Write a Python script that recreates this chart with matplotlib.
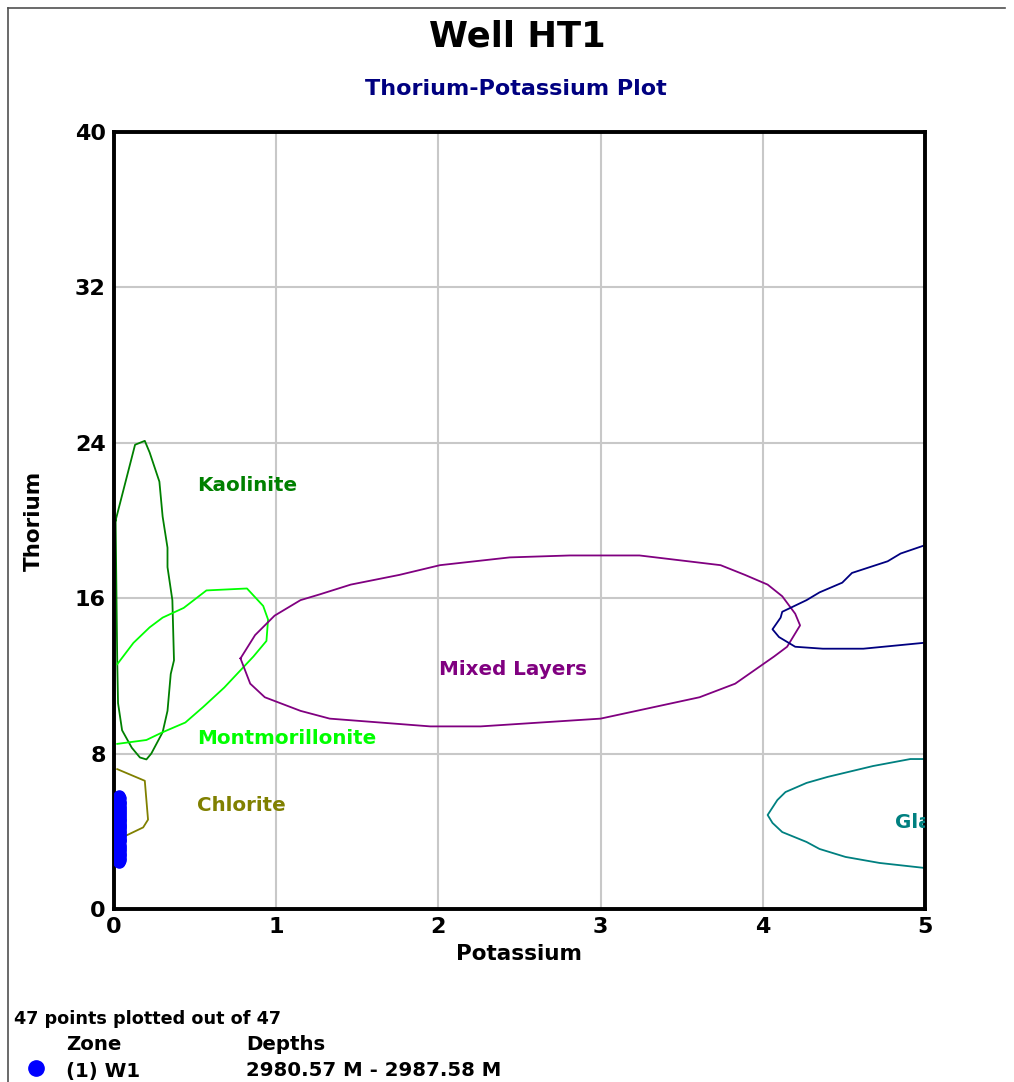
import matplotlib
matplotlib.use("Agg")
import matplotlib.pyplot as plt
from matplotlib.lines import Line2D

# Measured data points (potassium %, thorium ppm)
pts_k = [0.03, 0.04, 0.03, 0.04, 0.04, 0.03, 0.04, 0.04, 0.03, 0.04,
         0.04, 0.03, 0.04, 0.04, 0.03, 0.04, 0.04, 0.04, 0.03, 0.04,
         0.03, 0.04, 0.04, 0.04, 0.03, 0.04, 0.04, 0.03, 0.04, 0.04,
         0.03, 0.04, 0.04, 0.04, 0.03, 0.04, 0.03, 0.04, 0.04, 0.04,
         0.03, 0.04, 0.04, 0.03, 0.04, 0.04, 0.03]
pts_th = [5.8, 5.7, 5.6, 5.5, 5.45, 5.4, 5.3, 5.2, 5.15, 5.1,
          5.0, 4.95, 4.9, 4.8, 4.75, 4.7, 4.6, 4.55, 4.5, 4.4,
          4.35, 4.3, 4.2, 4.15, 4.1, 4.0, 3.95, 3.9, 3.8, 3.75,
          3.7, 3.6, 3.55, 3.5, 3.4, 3.3, 3.25, 3.2, 3.1, 3.0,
          2.9, 2.85, 2.8, 2.7, 2.6, 2.5, 2.4]

# Mineral zones (outlines)
kaol_k = [0.01, 0.13, 0.19, 0.22, 0.28, 0.30, 0.33, 0.33, 0.36, 0.37, 0.35,
          0.33, 0.30, 0.23, 0.20, 0.16, 0.11, 0.05, 0.025, 0.02, 0.01]
kaol_th = [20.0, 23.9, 24.1, 23.5, 22.0, 20.2, 18.6, 17.6, 15.9, 12.8, 12.1,
           10.2, 9.1, 8.0, 7.7, 7.8, 8.3, 9.2, 10.6, 12.8, 20.0]

mont_k = [0.02, 0.12, 0.22, 0.30, 0.43, 0.57, 0.82, 0.92, 0.95, 0.94, 0.86,
          0.68, 0.55, 0.44, 0.30, 0.20, 0.02]
mont_th = [12.6, 13.7, 14.5, 15.0, 15.5, 16.4, 16.5, 15.6, 14.9, 13.8, 13.0,
           11.4, 10.4, 9.6, 9.1, 8.7, 8.5]

chlo_k = [0.02, 0.19, 0.21, 0.18, 0.08, 0.02]
chlo_th = [7.2, 6.6, 4.6, 4.2, 3.8, 3.8]

mixed_k = [0.78, 0.87, 0.99, 1.15, 1.27, 1.46, 1.76, 2.01, 2.44, 2.81, 3.24,
           3.74, 3.89, 4.03, 4.12, 4.20, 4.23, 4.15, 4.07, 3.83, 3.61, 3.00,
           2.26, 1.95, 1.33, 1.15, 0.93, 0.84, 0.78]
mixed_th = [12.9, 14.1, 15.1, 15.9, 16.2, 16.7, 17.2, 17.7, 18.1, 18.2, 18.2,
            17.7, 17.2, 16.7, 16.1, 15.2, 14.6, 13.5, 13.0, 11.6, 10.9, 9.8,
            9.4, 9.4, 9.8, 10.2, 10.9, 11.6, 12.9]

mica_k = [4.99, 4.85, 4.77, 4.55, 4.49, 4.35, 4.27, 4.12, 4.11, 4.06, 4.10,
          4.20, 4.37, 4.62, 4.99]
mica_th = [18.7, 18.3, 17.9, 17.3, 16.8, 16.3, 15.9, 15.3, 15.0, 14.4, 14.0,
           13.5, 13.4, 13.4, 13.7]

glau_k = [5.0, 4.91, 4.68, 4.40, 4.27, 4.14, 4.09, 4.03, 4.06, 4.12, 4.27,
          4.35, 4.51, 4.72, 5.0]
glau_th = [7.72, 7.72, 7.36, 6.80, 6.49, 6.02, 5.61, 4.84, 4.43, 3.96, 3.45,
           3.09, 2.68, 2.37, 2.11]

x_ticks = [0, 1, 2, 3, 4, 5]
y_ticks = [0, 8, 16, 24, 32, 40]

plt.rcParams["font.family"] = "DejaVu Sans"
plt.rcParams["font.weight"] = "bold"

fig = plt.figure(figsize=(10.14, 10.82), dpi=100)
ax = fig.add_axes([0.1124, 0.1599, 0.7998, 0.7181])

ax.set_xlim(0, 5)
ax.set_ylim(0, 40)
ax.set_xticks(x_ticks)
ax.set_yticks(y_ticks)
ax.tick_params(length=0, labelsize=16, pad=6)
for lab in ax.get_xticklabels() + ax.get_yticklabels():
    lab.set_fontweight("bold")
ax.grid(True, color="#c8c8c8", lw=1.5)
ax.set_axisbelow(True)
for s in ax.spines.values():
    s.set_linewidth(2.8)
    s.set_color("black")

lw = 1.3
ax.plot(kaol_k, kaol_th, color="#008000", lw=lw)
ax.plot(mont_k, mont_th, color="#00ff00", lw=lw)
ax.plot(chlo_k, chlo_th, color="#808000", lw=lw)
ax.plot(mixed_k, mixed_th, color="#800080", lw=lw)
ax.plot(mica_k, mica_th, color="#000080", lw=lw)
ax.plot(glau_k, glau_th, color="#008080", lw=lw)

ax.plot(pts_k, pts_th, "o", color="blue", ms=8, mec="blue", zorder=5)

fs = 14.3
ax.text(0.51, 21.8, "Kaolinite", color="#008000", fontsize=fs, fontweight="bold", va="center")
ax.text(0.51, 8.8, "Montmorillonite", color="#00ff00", fontsize=fs, fontweight="bold", va="center")
ax.text(0.51, 5.35, "Chlorite", color="#808000", fontsize=fs, fontweight="bold", va="center")
ax.text(2.46, 12.35, "Mixed Layers", color="#800080", fontsize=fs, fontweight="bold",
        va="center", ha="center")
ax.text(4.815, 4.43, "Glauconite", color="#008080", fontsize=fs, fontweight="bold",
        va="center", clip_on=True)

ax.set_xlabel("Potassium", fontsize=15.5, fontweight="bold", labelpad=5)
ax.set_ylabel("Thorium", fontsize=15.5, fontweight="bold", labelpad=22)

fig.text(0.51, 0.966, "Well HT1", fontsize=25.5, fontweight="bold", ha="center", va="center")
fig.text(0.509, 0.918, "Thorium-Potassium Plot", fontsize=16, fontweight="bold",
         color="#000080", ha="center", va="center")

# footer
fig.text(14 / 1014, 1 - 1019 / 1082, "47 points plotted out of 47", fontsize=12.7,
         fontweight="bold", va="center")
fig.text(66 / 1014, 1 - 1044 / 1082, "Zone", fontsize=14.2, fontweight="bold", va="center")
fig.text(246 / 1014, 1 - 1044 / 1082, "Depths", fontsize=14.2, fontweight="bold", va="center")
fig.text(66 / 1014, 1 - 1071 / 1082, "(1) W1", fontsize=14.2, fontweight="bold", va="center")
fig.text(246 / 1014, 1 - 1071 / 1082, "2980.57 M - 2987.58 M", fontsize=14.2,
         fontweight="bold", va="center")
fig.add_artist(Line2D([36 / 1014], [1 - 1068 / 1082], marker="o", color="blue",
                      ms=11, transform=fig.transFigure))

# outer frame
fig.add_artist(Line2D([8 / 1014, 8 / 1014], [0, 1 - 8 / 1082], color="#505050",
                      lw=1.2, transform=fig.transFigure))
fig.add_artist(Line2D([8 / 1014, 1005 / 1014], [1 - 8 / 1082, 1 - 8 / 1082],
                      color="#505050", lw=1.2, transform=fig.transFigure))

fig.savefig("out.png", dpi=100)
